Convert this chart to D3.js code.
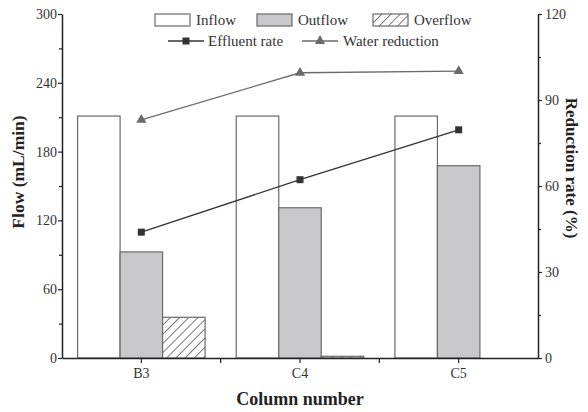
<!DOCTYPE html>
<html><head><meta charset="utf-8">
<script src="https://cdn.jsdelivr.net/npm/d3@7"></script>
<style>body{margin:0;background:#fff}svg{display:block}text{font-family:"Liberation Serif","Times New Roman",serif}</style>
</head><body>
<svg id="c" width="588" height="412"></svg>
<script>
const categories = ["B3","C4","C5"];
const inflow = [211, 211, 211];
const outflow = [92.5, 131, 167.7];
const overflow = [35.5, 1.5, 0];
const effluentRate = [43.9, 62.2, 79.6];
const waterReduction = [83.1, 99.5, 100.1];
const leftTicks = [0,60,120,180,240,300];
const rightTicks = [0,30,60,90,120];

const svg = d3.select("#c");
const L=62, R=538, T=14, B=358;
const x = d3.scaleBand().domain(categories).range([L,R]);
const yL = d3.scaleLinear().domain([0,300]).range([B,T]);
const yR = d3.scaleLinear().domain([0,120]).range([B,T]);
const bw = 42.5;
const series = [
  {name:"Inflow", vals:inflow, fill:"#fff"},
  {name:"Outflow", vals:outflow, fill:"#c8c8ca"},
  {name:"Overflow", vals:overflow, fill:"url(#hatch)"}
];
const defs = svg.append("defs");
const pat = defs.append("pattern").attr("id","hatch").attr("patternUnits","userSpaceOnUse")
  .attr("width",6.5).attr("height",6.5).attr("patternTransform","rotate(45)");
pat.append("rect").attr("width",6.5).attr("height",6.5).attr("fill","#fff");
pat.append("line").attr("x1",0).attr("y1",0).attr("x2",0).attr("y2",6.5).attr("stroke","#333").attr("stroke-width",1.3);

const stroke="#6a6a6a";
series.forEach((s,i)=>{
  svg.append("g").selectAll("rect").data(s.vals).join("rect")
    .attr("x",(d,j)=>x(categories[j])+x.bandwidth()/2-1.5*bw+i*bw)
    .attr("y",d=>yL(d)).attr("width",bw).attr("height",d=>B-yL(d))
    .attr("fill",s.fill).attr("stroke",d=>d>0?stroke:"none").attr("stroke-width",1.2);
});

// axes
const axL = svg.append("g").attr("transform",`translate(${L},0)`)
  .call(d3.axisLeft(yL).tickValues(leftTicks).tickSize(4).tickSizeOuter(0));
svg.append("g").attr("transform",`translate(${L},0)`)
  .call(d3.axisLeft(yL).tickValues([30,90,150,210,270]).tickSize(3).tickFormat("").tickSizeOuter(0)).select(".domain").remove();
const axR = svg.append("g").attr("transform",`translate(${R},0)`)
  .call(d3.axisRight(yR).tickValues(rightTicks).tickSize(4).tickSizeOuter(0));
svg.append("g").attr("transform",`translate(${R},0)`)
  .call(d3.axisRight(yR).tickValues([15,45,75,105]).tickSize(3).tickFormat("").tickSizeOuter(0)).select(".domain").remove();
const axB = svg.append("g").attr("transform",`translate(0,${B})`)
  .call(d3.axisBottom(x).tickSize(5).tickSizeOuter(0));
svg.append("g").selectAll("line").data(categories.slice(1)).join("line")
  .attr("x1",d=>x(d)).attr("x2",d=>x(d)).attr("y1",B).attr("y2",B+5).attr("stroke","#222").attr("stroke-width",1.2);
svg.selectAll(".domain").attr("stroke","#222").attr("stroke-width",1.5);
svg.selectAll(".tick line").attr("stroke","#222").attr("stroke-width",1.2);
svg.selectAll("g").attr("font-family",null);
svg.selectAll(".tick text").attr("font-size",14).attr("fill","#333").style("font-family","Liberation Serif");
axL.selectAll(".tick text").attr("x",-5);
axR.selectAll(".tick text").attr("x",7);
axB.selectAll(".tick text").attr("y",10);

// lines
const lineGen = yS => d3.line().x((d,i)=>x(categories[i])+x.bandwidth()/2).y(d=>yS(d));
svg.append("path").datum(waterReduction).attr("d",lineGen(yR)).attr("fill","none").attr("stroke","#6a6a6a").attr("stroke-width",1.3);
svg.append("path").datum(effluentRate).attr("d",lineGen(yR)).attr("fill","none").attr("stroke","#333").attr("stroke-width",1.3);
const tri = d3.symbol().type(d3.symbolTriangle).size(45);
svg.append("g").selectAll("path").data(waterReduction).join("path")
  .attr("transform",(d,i)=>`translate(${x(categories[i])+x.bandwidth()/2},${yR(d)})`)
  .attr("d",tri).attr("fill","#6a6a6a");
svg.append("g").selectAll("rect").data(effluentRate).join("rect")
  .attr("x",(d,i)=>x(categories[i])+x.bandwidth()/2-3.5).attr("y",d=>yR(d)-3.5)
  .attr("width",7).attr("height",7).attr("fill","#333");

// legend
const lg = svg.append("g").attr("font-size",15).attr("fill","#333");
const boxes=[{x:155,s:series[0]},{x:257,s:series[1]},{x:373,s:series[2]}];
boxes.forEach(b=>{
  lg.append("rect").attr("x",b.x).attr("y",14).attr("width",35).attr("height",12)
    .attr("fill",b.s.fill).attr("stroke",stroke).attr("stroke-width",1.2);
  lg.append("text").attr("x",b.x+41).attr("y",25).text(b.s.name).attr("fill","#333");
});
lg.append("line").attr("x1",168).attr("x2",204).attr("y1",41).attr("y2",41).attr("stroke","#333").attr("stroke-width",1.3);
lg.append("rect").attr("x",182.5).attr("y",37.5).attr("width",7).attr("height",7).attr("fill","#333");
lg.append("text").attr("x",208).attr("y",46).text("Effluent rate").attr("fill","#333");
lg.append("line").attr("x1",302).attr("x2",338).attr("y1",41).attr("y2",41).attr("stroke","#6a6a6a").attr("stroke-width",1.3);
lg.append("path").attr("transform","translate(320,41)").attr("d",tri).attr("fill","#6a6a6a");
lg.append("text").attr("x",343).attr("y",46).text("Water reduction").attr("fill","#333");

// titles
svg.append("text").attr("x",300).attr("y",405).attr("text-anchor","middle").attr("font-size",18)
  .attr("font-weight","bold").attr("fill","#222").text("Column number");
svg.append("text").attr("transform","translate(24,172) rotate(-90)").attr("text-anchor","middle").attr("font-size",17.5)
  .attr("font-weight","bold").attr("fill","#222").text("Flow (mL/min)");
svg.append("text").attr("transform","translate(566,168) rotate(90)").attr("text-anchor","middle").attr("font-size",17)
  .attr("font-weight","bold").attr("fill","#222").text("Reduction rate (%)");
</script>
</body></html>
